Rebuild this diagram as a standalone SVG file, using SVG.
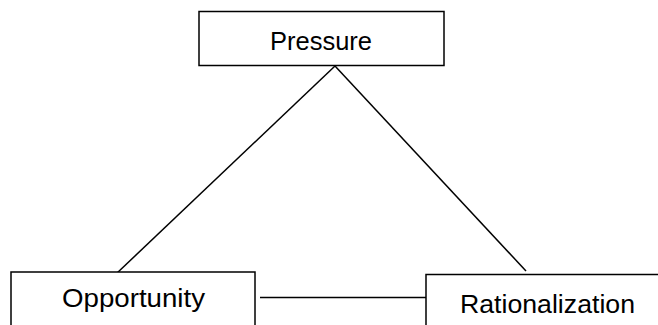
<svg xmlns="http://www.w3.org/2000/svg" width="658" height="325" viewBox="0 0 658 325">
<style>
.box{fill:#fff;stroke:#000;stroke-width:1.5}
.lbl{font-family:"Liberation Sans","Open Sans",sans-serif;font-size:26px;fill:#000;text-anchor:middle}
.conn line{stroke:#000;stroke-width:1.5}
</style>
<rect width="658" height="325" fill="#fff"/>
<g class="conn" id="connectors">
<line x1="335" y1="66" x2="116" y2="274"/>
<line x1="335" y1="66" x2="526" y2="271"/>
<line x1="260" y1="297.5" x2="426" y2="297.5"/>
</g>
<g id="pressure">
<rect class="box" x="199" y="11.5" width="245" height="54"/>
<text class="lbl" x="321" y="50" textLength="102" lengthAdjust="spacingAndGlyphs">Pressure</text>
</g>
<g id="opportunity">
<rect class="box" x="11" y="272" width="244" height="60"/>
<text class="lbl" x="133.5" y="307" textLength="143" lengthAdjust="spacingAndGlyphs">Opportunity</text>
</g>
<g id="rationalization">
<rect class="box" x="426" y="274.5" width="240" height="60"/>
<text class="lbl" x="547.5" y="313" textLength="175" lengthAdjust="spacingAndGlyphs">Rationalization</text>
</g>
</svg>
